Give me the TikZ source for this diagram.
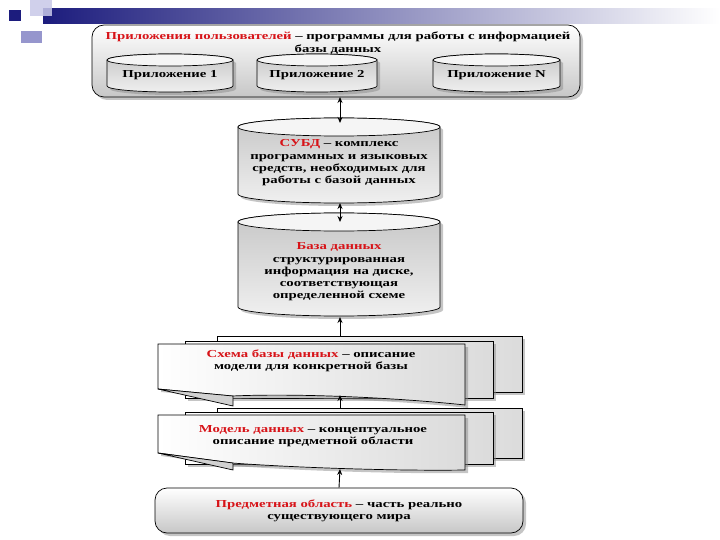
\documentclass[tikz,border=0pt]{standalone}
\usepackage{fontspec}
\setmainfont{Liberation Serif}[FakeStretch=1.38]
\usetikzlibrary{arrows.meta,shadows}

\definecolor{termred}{RGB}{215,20,25}
\definecolor{navy}{RGB}{28,28,125}
\definecolor{lavender}{RGB}{200,200,232}
\definecolor{midlav}{RGB}{150,150,205}
\definecolor{haze}{RGB}{175,175,200}
\newcommand{\term}[1]{\textcolor{termred}{#1}}

\begin{document}
\begin{tikzpicture}[x=1pt, y=-1pt,
    note/.style={font=\fontsize{10.7}{12.3}\selectfont\bfseries, align=center, inner sep=0pt},
    shade off/.style={drop shadow={shadow xshift=3pt, shadow yshift=-3pt, fill=black!45}},
    panel/.style={draw, line width=0.7pt, rounded corners=12pt, top color=white, bottom color=black!22, shade off},
    drum/.style={draw, line width=0.7pt, top color=black!22, middle color=white, bottom color=black!6, shade off},
    drumlid/.style={draw, line width=0.7pt, fill=black!4},
    sheet/.style={draw, line width=0.7pt, left color=white, right color=black!14, shade off},
    flap/.style={draw, line width=0.7pt, fill=black!18},
    link/.style={-{Stealth[length=6pt, width=5pt]}, line width=0.9pt},
    both/.style={{Stealth[length=6pt, width=5pt]}-{Stealth[length=6pt, width=5pt]}, line width=0.9pt}
  ]
  \useasboundingbox (0,0) rectangle (720,540);

  % Title bar decoration
  \shade[left color=navy, middle color=haze, right color=white] (43,9) rectangle (720,24);
  \fill[lavender, opacity=0.85] (30,0) rectangle (52,16);
  \fill[midlav] (21,31) rectangle (42,43);
  \fill[navy] (9,10) rectangle (21,21);

  % User applications
  \path[panel] (92,25) rectangle (580,97);
  \node[note] (users) at (338,43) {\term{Приложения пользователей} -- программы для работы с информацией\\базы данных};
  \foreach \xa/\xb/\name/\txt in {107/233/app1/{Приложение 1}, 257/377/app2/{Приложение 2}, 433/560/appn/{Приложение N}} {
    \pgfmathsetmacro{\rx}{(\xb-\xa)/2}
    \pgfmathsetmacro{\cx}{(\xa+\xb)/2}
    \path[drum] (\xa,60) -- (\xa,86) arc[start angle=180, end angle=0, x radius=\rx, y radius=6]
      -- (\xb,60) arc[start angle=0, end angle=-180, x radius=\rx, y radius=6] -- cycle;
    \draw[drumlid] (\cx,60) ellipse[x radius=\rx, y radius=6];
    \node[note] (\name) at (\cx,75) {\txt};
  }

  % DBMS
  \path[drum] (238,127) -- (238,194) arc[start angle=180, end angle=0, x radius=101, y radius=9]
    -- (440,127) arc[start angle=0, end angle=-180, x radius=101, y radius=9] -- cycle;
  \draw[drumlid] (339,127) ellipse[x radius=101, y radius=9];
  \node[note] (dbms) at (339,163) {\term{СУБД} -- комплекс\\программных и языковых\\средств, необходимых для\\работы с базой данных};

  % Database
  \path[drum] (238,222) -- (238,307) arc[start angle=180, end angle=0, x radius=101, y radius=9]
    -- (440,222) arc[start angle=0, end angle=-180, x radius=101, y radius=9] -- cycle;
  \draw[drumlid] (339,222) ellipse[x radius=101, y radius=9];
  \node[note] (db) at (339,272) {\term{База данных}\\структурированная\\информация на диске,\\соответствующая\\определенной схеме};

  % Database schema
  \path[sheet] (217,336) rectangle (522,392);
  \path[sheet] (185,341) rectangle (493,398);
  \path[sheet] (158,344) -- (465,344) -- (465,405) .. controls (400,398) and (300,393) .. (232,396) -- (158,389) -- cycle;
  \draw[flap] (158,389) -- (233,406) -- (233,396) -- cycle;
  \node[note] (schema) at (311,361) {\term{Схема базы данных} -- описание\\модели для конкретной базы};

  % Data model
  \path[sheet] (217,408) rectangle (522,458);
  \path[sheet] (185,412) rectangle (493,464);
  \path[sheet] (158,415) -- (465,415) -- (465,470) .. controls (400,471) and (300,468) .. (232,463) -- (158,453) -- cycle;
  \draw[flap] (158,453) -- (233,470) -- (233,463) -- cycle;
  \node[note] (model) at (313,436) {\term{Модель данных} -- концептуальное\\описание предметной области};

  % Subject domain
  \node[panel, note, minimum width=368, minimum height=45] (domain) at (339,510.5) {\term{Предметная область} -- часть реально\\существующего мира};

  % Connectors
  \coordinate (users end) at (340,97);
  \coordinate (dbms top) at (340,123);
  \coordinate (dbms end) at (340,203);
  \coordinate (db top) at (340,222);
  \coordinate (db end) at (340,317);
  \coordinate (schema top) at (340,336);
  \coordinate (schema end) at (340,395);
  \coordinate (model top) at (340,408);
  \coordinate (model end) at (340,469);
  \draw[both] (users end) -- (dbms top);
  \draw[both] (dbms end) -- (db top);
  \draw[link] (schema top) -- (db end);
  \draw[link] (model top) -- (schema end);
  \draw[link] (domain.north) -- (model end);
\end{tikzpicture}
\end{document}
